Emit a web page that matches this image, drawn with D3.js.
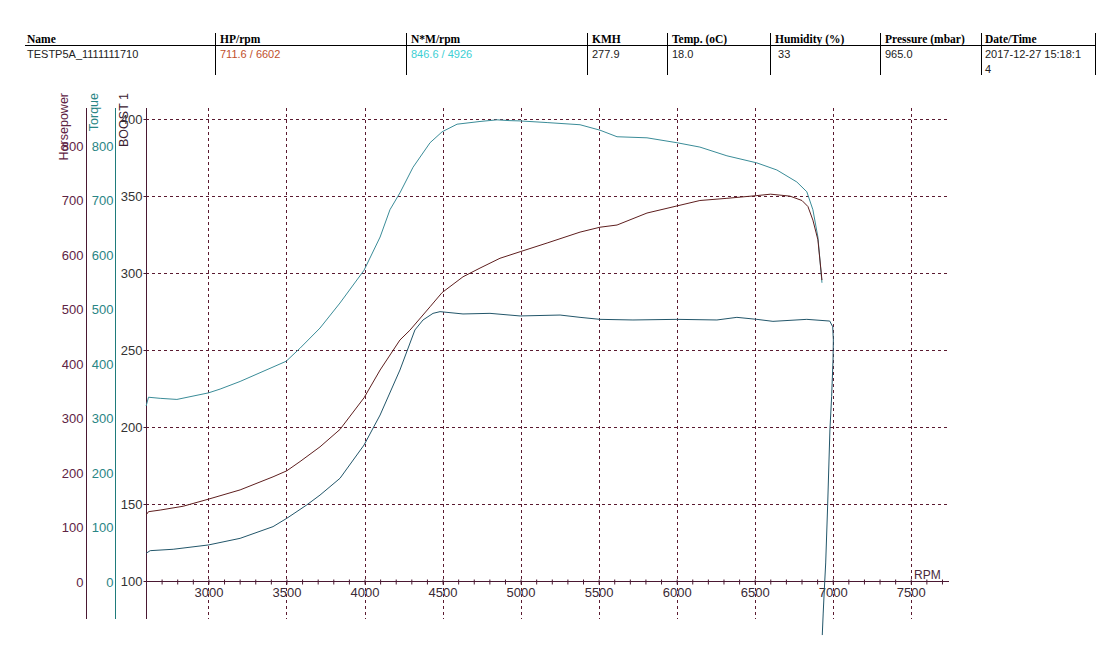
<!DOCTYPE html>
<html><head><meta charset="utf-8">
<script src="https://cdn.jsdelivr.net/npm/d3@7"></script>
<style>
body{margin:0;background:#fff;}
svg{display:block;}
</style></head>
<body>
<svg id="c" width="1119" height="657"></svg>
<script>
// ---- Data ----
const headerLabels = ["Name","HP/rpm","N*M/rpm","KMH","Temp. (oC)","Humidity (%)","Pressure (mbar)","Date/Time"];
const headerValues = ["TESTP5A_1111111710","711.6 / 6602","846.6 / 4926","277.9","18.0"," 33","965.0","2017-12-27 15:18:1"];
const dateWrap = "4";

const rpmTicks = [3000,3500,4000,4500,5000,5500,6000,6500,7000,7500];
const powerTicks = [0,100,200,300,400,500,600,700,800];
const boostTicks = [100,150,200,250,300,350,400];

const torqueRpm = [2601,2616,2691,2798,3000,3075,3203,3498,3587,3715,3843,3997,4100,4163,4227,4311,4420,4497,4593,4740,4849,4926,4997,5170,5381,5509,5618,5810,6002,6149,6322,6514,6642,6770,6834,6873,6905,6931];
const torqueVal = [323,339,337,335,347,354,368,405,429,466,512,572,633,683,714,761,806,826,840,845,848,846.6,846,843,839,829,817,815,806,798,782,769,756,734,716,683,633,549];

const hpRpm = [2601,2616,2691,2838,3000,3203,3414,3502,3587,3715,3843,3997,4100,4227,4291,4420,4497,4631,4740,4868,4997,5170,5381,5509,5618,5810,6002,6149,6322,6514,6602,6726,6803,6841,6873,6905,6931];
const hpVal = [123,129,132,139,152,169,193,204,221,248,280,338,389,444,462,505,531,560,576,594,606,622,642,651,655,677,690,700,704,709,711.6,708,700,689,664,628,554];

const boostRpm = [2601,2627,2774,3000,3203,3414,3502,3630,3715,3843,3997,4100,4227,4323,4375,4439,4484,4631,4804,4997,5253,5381,5509,5720,6002,6258,6386,6514,6617,6834,6981,7000,7004,7002,6993,6982,6968,6955,6946,6939,6933];
const boostVal = [118.0,119.7,120.6,123.4,127.7,135.3,140.7,149.4,155.8,166.7,188.3,207.8,237.0,263.0,269.5,273.8,274.9,273.4,273.8,272.1,272.7,271.2,269.9,269.5,269.9,269.5,271.2,269.9,268.6,269.9,268.8,265.1,256.5,243.5,219.7,198.1,150.6,111.7,94.2,79.2,64.9];

// ---- Layout ----
const svg = d3.select("#c");
const maroon = "#4a1832";
const gridCol = "#5a1a30";
const hpLabelCol = "#5e2444";
const tqCol = "#2a8585";

const x = d3.scaleLinear().domain([2600, 7745]).range([146, 949]);
const yP = d3.scaleLinear().domain([0, 800]).range([582, 146]);
const yB = d3.scaleLinear().domain([100, 400]).range([581, 119]);
const yTop = 108, yBot = 619;

// ---- Header table ----
const sepX = [215, 406, 587, 667, 770, 880, 981, 1095];
const colX = [27, 220, 411, 592, 672, 775, 885, 985];
const hdr = svg.append("g");
hdr.append("line").attr("x1",25).attr("x2",1095).attr("y1",45.5).attr("y2",45.5).attr("stroke","#000").attr("stroke-width",1);
sepX.forEach(sx => hdr.append("line").attr("x1",sx+0.5).attr("x2",sx+0.5).attr("y1",33).attr("y2",75).attr("stroke","#000"));
headerLabels.forEach((t,i)=>hdr.append("text").attr("x",colX[i]).attr("y",43)
  .attr("font-family","Liberation Serif, Times New Roman, serif").attr("font-weight","bold").attr("font-size",11.5).attr("fill","#000").text(t));
const valCols = ["#222","#c0502c","#3ccfd4","#222","#222","#222","#222","#222"];
headerValues.forEach((t,i)=>hdr.append("text").attr("x",colX[i]).attr("y",58).attr("xml:space","preserve")
  .attr("font-family","Liberation Sans, Arial, sans-serif").attr("font-size",11).attr("fill",valCols[i]).text(t));
hdr.append("text").attr("x",colX[7]).attr("y",73).attr("font-family","Liberation Sans, Arial, sans-serif").attr("font-size",11).attr("fill","#222").text(dateWrap);

// ---- Grid ----
const g = svg.append("g");
g.selectAll(".vg").data(rpmTicks).join("line")
  .attr("x1",d=>Math.round(x(d))+0.5).attr("x2",d=>Math.round(x(d))+0.5)
  .attr("y1",yTop).attr("y2",yBot).attr("stroke",gridCol).attr("stroke-dasharray","3,3");
g.selectAll(".hg").data(boostTicks.filter(d=>d>100)).join("line")
  .attr("x1",146).attr("x2",947).attr("y1",d=>Math.round(yB(d))+0.5).attr("y2",d=>Math.round(yB(d))+0.5)
  .attr("stroke",gridCol).attr("stroke-dasharray","3,3");

// ---- X axis ----
const xAxis = d3.axisBottom(x).tickValues(d3.range(2700, 7701, 100)).tickSize(3).tickFormat("");
const xg = svg.append("g").attr("transform","translate(0,581.5)").call(xAxis);
xg.select(".domain").remove();
xg.selectAll(".tick line").attr("stroke",maroon).attr("y1",-2).attr("y2",3);
svg.append("line").attr("x1",146).attr("x2",949).attr("y1",581.5).attr("y2",581.5).attr("stroke",maroon);
const xLab = d3.axisBottom(x).tickValues(rpmTicks).tickSize(0).tickPadding(6).tickFormat(d3.format("d"));
const xl = svg.append("g").attr("transform","translate(0,581.5)").call(xLab);
xl.select(".domain").remove();
xl.selectAll("text").attr("font-family","Liberation Sans Narrow, Arial Narrow, Liberation Sans, sans-serif").attr("font-size",13).attr("fill","#3a2a35");
svg.append("text").attr("x",914).attr("y",579).attr("font-family","Liberation Sans, Arial, sans-serif").attr("font-size",12).attr("fill","#4a2a3a").text("RPM");

// ---- Y axes ----
function yAxisBlock(scale, ticks, lineX, labelEnd, lineCol, labCol, tick){
  svg.append("line").attr("x1",lineX+0.5).attr("x2",lineX+0.5).attr("y1",yTop).attr("y2",yBot).attr("stroke",lineCol);
  const ax = d3.axisLeft(scale).tickValues(ticks).tickSize(tick).tickPadding(lineX-labelEnd-tick);
  const a = svg.append("g").attr("transform",`translate(${lineX+0.5},0)`).call(ax);
  a.select(".domain").remove();
  a.selectAll(".tick line").attr("stroke",lineCol);
  a.selectAll("text").attr("font-family","Liberation Sans, Arial, sans-serif").attr("font-size",13).attr("fill",labCol);
}
yAxisBlock(yP, powerTicks, 86, 83, maroon, hpLabelCol, 0);
yAxisBlock(yP, powerTicks, 115, 113, "#1f7b7b", tqCol, 0);
yAxisBlock(yB, boostTicks, 146, 142, maroon, "#333333", 3);

// axis titles
function vtitle(txt, cx, col){
  svg.append("text").attr("transform",`translate(${cx},93) rotate(-90)`).attr("text-anchor","end")
    .attr("font-family","Liberation Sans, Arial, sans-serif").attr("font-size",12.5).attr("fill",col).text(txt);
}
vtitle("Horsepower", 68, "#5e2444");
vtitle("Torque", 98, tqCol);
vtitle("BOOST 1", 128, "#3a2030");

// ---- Curves ----
const line = (xs, ys, yScale) => d3.line().x(i=>x(xs[i])).y(i=>yScale(ys[i]))(d3.range(xs.length));
svg.append("path").attr("d", line(torqueRpm, torqueVal, yP)).attr("fill","none").attr("stroke","#3a8c98").attr("stroke-width",1);
svg.append("path").attr("d", line(hpRpm, hpVal, yP)).attr("fill","none").attr("stroke","#5e1e1e").attr("stroke-width",1);
svg.append("path").attr("d", line(boostRpm, boostVal, yB)).attr("fill","none").attr("stroke","#22566a").attr("stroke-width",1);
</script>
</body></html>
